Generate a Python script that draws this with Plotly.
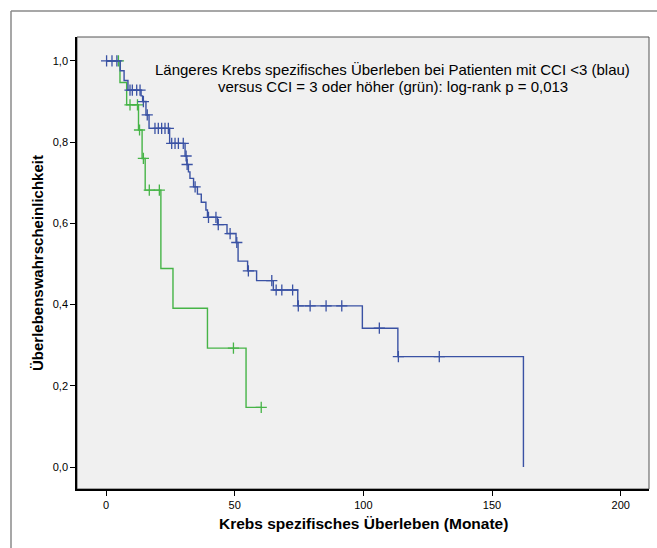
import plotly.graph_objects as go

# ---- data ----
blue_t = [0, 5.5, 7.0, 8.5, 13.6, 14.2, 15.5, 16.7, 24.7, 30.7, 31.4, 32.0, 32.6, 34.0,
          35.5, 37.0, 38.8, 39.4, 43.3, 47.0, 50.5, 51.3, 55.0, 58.5, 65.0, 74.5,
          99.6, 113.4, 162.2]
blue_s = [1.0, 0.976, 0.952, 0.928, 0.914, 0.900, 0.867, 0.834, 0.797, 0.766, 0.745,
          0.727, 0.711, 0.690, 0.672, 0.652, 0.633, 0.615, 0.597, 0.575, 0.553, 0.507,
          0.483, 0.459, 0.436, 0.397, 0.342, 0.272, 0.0]
blue_cens_t = [0.2, 2.3, 4.2, 9.3, 10.2, 11.9, 13.2, 14.5, 16.0, 19.0, 20.3, 21.6, 22.9,
               24.2, 25.5, 26.8, 28.1, 30.0, 31.1, 31.5, 34.6, 39.8, 42.7, 43.6, 48.2,
               50.8, 55.3, 64.4, 66.1, 68.3, 72.5, 74.7, 79.3, 85.5, 91.6, 106.2,
               113.6, 129.5]
blue_cens_s = [1.0, 1.0, 1.0, 0.928, 0.928, 0.928, 0.928, 0.900, 0.867, 0.834, 0.834,
               0.834, 0.834, 0.834, 0.797, 0.797, 0.797, 0.797, 0.766, 0.745, 0.690,
               0.615, 0.615, 0.597, 0.575, 0.553, 0.483, 0.459, 0.436, 0.436, 0.436,
               0.397, 0.397, 0.397, 0.397, 0.342, 0.272, 0.272]

green_t = [0, 5.4, 8.0, 12.6, 14.0, 15.2, 21.3, 26.0, 39.4, 54.4, 60.3]
green_s = [1.0, 0.947, 0.892, 0.830, 0.760, 0.682, 0.489, 0.391, 0.293, 0.147, 0.147]
green_cens_t = [4.8, 9.3, 12.2, 13.0, 14.5, 16.8, 20.7, 49.5, 60.3]
green_cens_s = [1.0, 0.892, 0.892, 0.830, 0.760, 0.682, 0.682, 0.293, 0.147]

x_ticks = [0, 50, 100, 150, 200]
y_ticks = [0.0, 0.2, 0.4, 0.6, 0.8, 1.0]

title_x = "Krebs spezifisches Überleben (Monate)"
title_y = "Überlebenswahrscheinlichkeit"
note_1 = "Längeres Krebs spezifisches Überleben bei Patienten mit CCI <3 (blau)"
note_2 = "versus CCI = 3 oder höher (grün): log-rank p = 0,013"

BLUE = "#3a52a4"
GREEN = "#46b447"

W, H = 657, 548
L, R, T, B = 77, 8, 37, 59
PW, PH = W - L - R, H - T - B


def px_x(p):
    return (p - L) / PW


def px_y(p):
    return (H - B - p) / PH


fig = go.Figure()
fig.add_trace(go.Scatter(x=green_t, y=green_s, mode="lines", line=dict(color=GREEN, width=1.4, shape="hv"),
                         showlegend=False, hoverinfo="skip"))
fig.add_trace(go.Scatter(x=green_cens_t, y=green_cens_s, mode="markers",
                         marker=dict(symbol="cross-thin", size=8, line=dict(color=GREEN, width=1.3)),
                         showlegend=False))
fig.add_trace(go.Scatter(x=blue_t, y=blue_s, mode="lines", line=dict(color=BLUE, width=1.4, shape="hv"),
                         showlegend=False, hoverinfo="skip"))
fig.add_trace(go.Scatter(x=blue_cens_t, y=blue_cens_s, mode="markers",
                         marker=dict(symbol="cross-thin", size=8, line=dict(color=BLUE, width=1.3)),
                         showlegend=False))

font = "Liberation Sans, Arial, sans-serif"

fig.update_layout(
    width=W, height=H,
    margin=dict(l=L, r=R, t=T, b=B),
    paper_bgcolor="white",
    plot_bgcolor="#f0f0f0",
    separators=",.",
    font=dict(family=font, size=11, color="black"),
    xaxis=dict(range=[-11.3, 211], tickvals=x_ticks, ticks="outside", ticklen=5, tickwidth=1.2,
               tickcolor="black", showgrid=False, zeroline=False, showline=True, linecolor="black",
               linewidth=1.6, tickfont=dict(size=11, family=font)),
    yaxis=dict(range=[-0.054, 1.059], tickvals=y_ticks, tickformat=".1f", ticks="outside", ticklen=5,
               tickwidth=1.2, tickcolor="black", showgrid=False, zeroline=False, showline=True,
               linecolor="black", linewidth=1.6, tickfont=dict(size=11, family=font)),
    shapes=[
        dict(type="rect", xref="paper", yref="paper", x0=0, x1=1, y0=0, y1=1,
             line=dict(color="#555555", width=1), layer="below"),
        dict(type="line", xref="paper", yref="paper", x0=px_x(11), x1=px_x(700), y0=px_y(11), y1=px_y(11),
             line=dict(color="#8a8a8a", width=1.5)),
        dict(type="line", xref="paper", yref="paper", x0=px_x(11), x1=px_x(11), y0=px_y(11), y1=px_y(600),
             line=dict(color="#8a8a8a", width=1.5)),
    ],
    annotations=[
        dict(text=note_1, xref="paper", yref="paper", x=px_x(393), y=px_y(70), showarrow=False,
             xanchor="center", yanchor="middle", font=dict(size=15, family=font)),
        dict(text=note_2, xref="paper", yref="paper", x=px_x(393), y=px_y(86.5), showarrow=False,
             xanchor="center", yanchor="middle", font=dict(size=15, family=font)),
        dict(text="<b>" + title_x + "</b>", xref="paper", yref="paper", x=px_x(363), y=px_y(523),
             showarrow=False, xanchor="center", yanchor="middle", font=dict(size=15.5, family=font)),
        dict(text="<b>" + title_y + "</b>", xref="paper", yref="paper", x=px_x(37), y=px_y(263),
             showarrow=False, xanchor="center", yanchor="middle", textangle=-90,
             font=dict(size=15, family=font)),
    ],
)

fig.write_html("out.html")
